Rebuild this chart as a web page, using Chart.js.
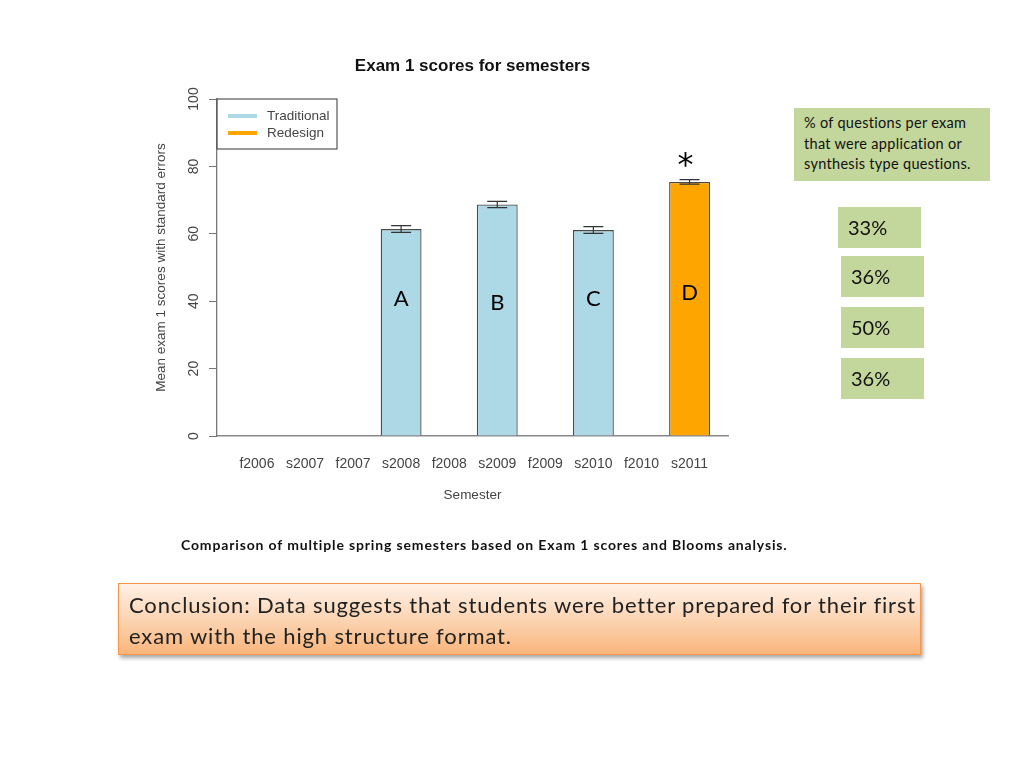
<!DOCTYPE html>
<html>
<head>
<meta charset="utf-8">
<script src="https://cdn.jsdelivr.net/npm/chart.js@4"></script>
<style>
  html, body { margin: 0; padding: 0; background: #ffffff; }
  body { width: 1024px; height: 768px; position: relative; overflow: hidden; font-family: Lato, "Open Sans", sans-serif; }
  #chartCanvas { position: absolute; left: 0; top: 0; }
  .note {
    position: absolute; background: #c3d69b; color: #111;
    box-sizing: border-box;
  }
  #bloomHead { left: 794px; top: 108px; width: 196px; height: 73px; font-size: 14.5px; letter-spacing: 0.3px; line-height: 20.5px; padding: 5px 4px 5px 10px; }
  .pct { width: 83px; height: 41px; font-size: 20px; line-height: 41px; padding-left: 10px; }
  #caption { position: absolute; left: 181px; top: 536px; font-size: 14px; letter-spacing: 0.85px; font-weight: bold; color: #111; white-space: nowrap; }
  #conclusion {
    position: absolute; left: 118px; top: 583px; width: 803px; height: 72px; box-sizing: border-box;
    border: 1px solid #f79646;
    background: linear-gradient(to bottom, #fef0e6 0%, #fcd5b4 50%, #f9b57c 100%);
    box-shadow: 2px 3px 4px rgba(0,0,0,0.35);
    font-size: 22px; letter-spacing: 0.85px; line-height: 31px; padding: 5px 0 5px 10px; color: #222;
  }
</style>
</head>
<body>
<canvas id="chartCanvas" width="1024" height="768"></canvas>
<div id="bloomHead" class="note">% of questions per exam that were application or synthesis type questions.</div>
<div id="pctBoxes"></div>
<div id="caption">Comparison of multiple spring semesters based on Exam 1 scores and Blooms analysis.</div>
<div id="conclusion">Conclusion: Data suggests that students were better prepared for their first exam with the high structure format.</div>
<script>
// ===== DATA =====
const semesters = ["f2006", "s2007", "f2007", "s2008", "f2008", "s2009", "f2009", "s2010", "f2010", "s2011"];
const meanScores = [null, null, null, 61.4, null, 68.7, null, 61.1, null, 75.4];
const stdErrors = [null, null, null, 1.0, null, 0.95, null, 1.0, null, 0.65];
const formats = [null, null, null, "Traditional", null, "Traditional", null, "Traditional", null, "Redesign"];
const barLetters = ["", "", "", "A", "", "B", "", "C", "", "D"];
const letterLevels = [null, null, null, 40.7, null, 39.5, null, 40.7, null, 42.5];
const starIndex = 9;
const starLevel = 82;
const yTicks = [0, 20, 40, 60, 80, 100];
const bloomPercents = ["33%", "36%", "50%", "36%"];

const formatColors = { Traditional: "#add8e6", Redesign: "#ffa500" };
const legendNames = ["Traditional", "Redesign"];

const rFont = "'Liberation Sans', Arial, sans-serif";

// ===== Bloom boxes =====
const pctLefts = [838, 841, 841, 841];
const pctTops = [207, 256, 307, 358];
const holder = document.getElementById("pctBoxes");
bloomPercents.forEach((p, i) => {
    const d = document.createElement("div");
    d.className = "note pct";
    d.style.left = pctLefts[i] + "px";
    d.style.top = pctTops[i] + "px";
    d.textContent = p;
    holder.appendChild(d);
});

// ===== extra drawing: title, rotated y labels, error bars, letters, legend =====
const extrasPlugin = {
    id: "extras",
    afterDatasetsDraw(chart) {
        const ctx = chart.ctx;
        const area = chart.chartArea;
        const ys = chart.scales.y;
        const meta = chart.getDatasetMeta(0);

        ctx.save();

        // title
        ctx.fillStyle = "#111";
        ctx.font = "bold 17px " + rFont;
        ctx.textAlign = "center";
        ctx.textBaseline = "middle";
        ctx.fillText("Exam 1 scores for semesters", (area.left + area.right) / 2, 66);

        // y tick labels, rotated like R
        ctx.fillStyle = "#444";
        ctx.font = "14px " + rFont;
        yTicks.forEach(v => {
            ctx.save();
            ctx.translate(area.left - 23, ys.getPixelForValue(v));
            ctx.rotate(-Math.PI / 2);
            ctx.textAlign = "center";
            ctx.textBaseline = "middle";
            ctx.fillText(String(v), 0, 0);
            ctx.restore();
        });

        // error bars
        ctx.strokeStyle = "#333";
        ctx.lineWidth = 1.2;
        meanScores.forEach((m, i) => {
            if (m === null) return;
            const x = meta.data[i].x;
            const yHi = ys.getPixelForValue(m + stdErrors[i]);
            const yLo = ys.getPixelForValue(m - stdErrors[i]);
            ctx.beginPath();
            ctx.moveTo(x, yHi); ctx.lineTo(x, yLo);
            ctx.moveTo(x - 10, yHi); ctx.lineTo(x + 10, yHi);
            ctx.moveTo(x - 10, yLo); ctx.lineTo(x + 10, yLo);
            ctx.stroke();
        });

        // bar letters
        ctx.fillStyle = "#000";
        ctx.font = "22px Lato, 'Open Sans', sans-serif";
        ctx.textAlign = "center";
        ctx.textBaseline = "middle";
        barLetters.forEach((t, i) => {
            if (!t) return;
            ctx.fillText(t, meta.data[i].x, ys.getPixelForValue(letterLevels[i]));
        });

        // significance star
        ctx.font = "32px 'DejaVu Sans', sans-serif";
        ctx.fillText("*", meta.data[starIndex].x - 4, ys.getPixelForValue(starLevel) + 7);

        // legend box (R topleft)
        const lx = area.left, ly = area.top;
        ctx.strokeStyle = "#555";
        ctx.lineWidth = 1.2;
        ctx.strokeRect(lx, ly, 120, 50);
        ctx.font = "13.5px " + rFont;
        ctx.textAlign = "left";
        legendNames.forEach((name, k) => {
            const yy = ly + 17 + k * 17;
            ctx.strokeStyle = formatColors[name];
            ctx.lineWidth = 4;
            ctx.beginPath();
            ctx.moveTo(lx + 11, yy); ctx.lineTo(lx + 40, yy);
            ctx.stroke();
            ctx.fillStyle = "#444";
            ctx.fillText(name, lx + 50, yy);
        });

        ctx.restore();
    }
};

const ctx = document.getElementById("chartCanvas").getContext("2d");

new Chart(ctx, {
    type: "bar",
    data: {
        datasets: [{
            data: semesters.map((s, i) => ({ x: i, y: meanScores[i] })),
            backgroundColor: formats.map(f => f ? formatColors[f] : "transparent"),
            borderColor: "#4a4a4a",
            borderWidth: 1.3,
            barPercentage: 0.85,
            categoryPercentage: 1
        }]
    },
    options: {
        responsive: false,
        animation: false,
        layout: { padding: { left: 150, right: 296, top: 99, bottom: 252 } },
        plugins: {
            legend: { display: false },
            tooltip: { enabled: false }
        },
        scales: {
            x: {
                type: "linear",
                offset: false,
                min: -0.83,
                max: 9.8,
                afterBuildTicks(scale) {
                    scale.ticks = semesters.map((s, i) => ({ value: i }));
                },
                afterFit(scale) { scale.height = 80; },
                grid: { display: false },
                border: { display: true, color: "#888", width: 1.5 },
                ticks: {
                    autoSkip: false,
                    maxRotation: 0,
                    padding: 12,
                    color: "#444",
                    font: { family: rFont, size: 14 },
                    callback: v => semesters[v]
                },
                title: {
                    display: true,
                    text: "Semester",
                    color: "#444",
                    font: { family: rFont, size: 13.5 },
                    padding: { top: 0, bottom: 13 }
                }
            },
            y: {
                min: 0,
                max: 100,
                afterBuildTicks(scale) {
                    scale.ticks = yTicks.map(v => ({ value: v }));
                },
                afterFit(scale) { scale.width = 67; },
                grid: {
                    drawOnChartArea: false,
                    drawTicks: true,
                    tickLength: 8,
                    color: "#777"
                },
                border: { display: true, color: "#777", width: 1.3 },
                ticks: { display: false },
                title: {
                    display: true,
                    text: "Mean exam 1 scores with standard errors",
                    color: "#444",
                    font: { family: rFont, size: 13.5 },
                    padding: { top: 3, bottom: 0 }
                }
            }
        }
    },
    plugins: [extrasPlugin]
});
</script>
</body>
</html>
